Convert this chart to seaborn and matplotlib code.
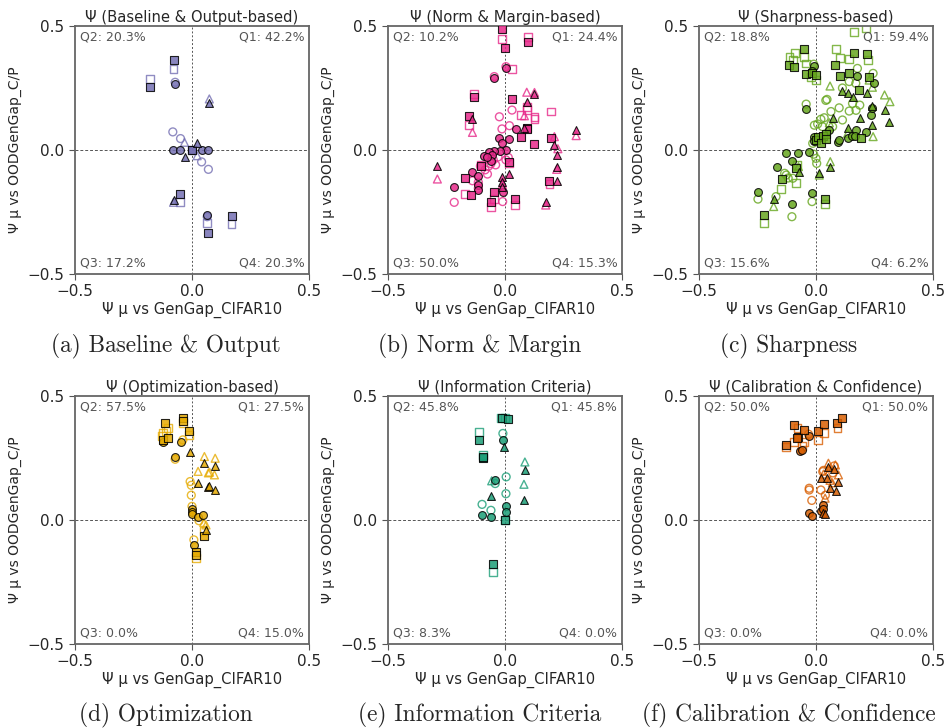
import matplotlib
matplotlib.use("Agg")
import matplotlib.pyplot as plt
import seaborn as sns
import pandas as pd

# colours (Dark2)
COLORS = ["#7570b3", "#e7298a", "#66a61e", "#e6ab02", "#1b9e77", "#d95f02"]

TITLES = ["Ψ (Baseline & Output-based)", "Ψ (Norm & Margin-based)", "Ψ (Sharpness-based)",
          "Ψ (Optimization-based)", "Ψ (Information Criteria)", "Ψ (Calibration & Confidence)"]
CAPTIONS = ["(a) Baseline & Output", "(b) Norm & Margin", "(c) Sharpness",
            "(d) Optimization", "(e) Information Criteria", "(f) Calibration & Confidence"]
# Q1, Q2, Q3, Q4 percentages
QUADS = [[42.2, 20.3, 17.2, 20.3], [24.4, 10.2, 50.0, 15.3], [59.4, 18.8, 15.6, 6.2],
         [27.5, 57.5, 0.0, 15.0], [45.8, 45.8, 8.3, 0.0], [50.0, 50.0, 0.0, 0.0]]

# (x, y, kind)  kind: c=circle, s=square, t=triangle; f=filled, h=hollow
A_PTS = [(-0.079, 0.363, "sf"), (-0.079, 0.327, "sh"), (-0.178, 0.288, "sh"), (-0.178, 0.255, "sf"),
         (-0.072, 0.266, "cf"), (-0.072, 0.273, "ch"), (0.074, 0.206, "th"), (0.074, 0.190, "tf"),
         (-0.082, 0.073, "ch"), (-0.049, 0.046, "ch"), (-0.032, 0.031, "th"), (0.022, 0.027, "tf"),
         (-0.082, 0.0, "cf"), (-0.050, 0.0, "cf"), (0.041, 0.0, "cf"), (0.070, 0.0, "cf"),
         (0.0, 0.0, "cf"), (0.0, 0.0, "sh"), (0.0, 0.0, "sf"), (-0.032, -0.027, "tf"),
         (0.022, -0.023, "th"), (0.041, -0.048, "ch"), (0.070, -0.078, "ch"),
         (-0.052, -0.177, "sf"), (-0.052, -0.211, "sh"), (-0.079, -0.202, "tf"), (-0.079, -0.211, "th"),
         (0.065, -0.262, "cf"), (0.065, -0.269, "ch"), (0.065, -0.296, "sh"), (0.067, -0.336, "sf"),
         (0.169, -0.265, "sf"), (0.169, -0.298, "sh")]

B_PTS = [(-0.014, 0.487, "sf"), (-0.014, 0.446, "sh"), (0.0, 0.41, "sf"), (0.097, 0.457, "sh"),
         (0.097, 0.435, "sf"), (0.004, 0.33, "cf"), (0.004, 0.336, "ch"), (0.03, 0.327, "sh"),
         (-0.046, 0.292, "cf"), (-0.046, 0.296, "ch"), (-0.131, 0.226, "sh"), (-0.131, 0.212, "sf"),
         (0.03, 0.206, "sf"), (0.093, 0.233, "th"), (0.126, 0.226, "tf"), (0.126, 0.232, "th"),
         (0.093, 0.195, "tf"), (0.093, 0.175, "sh"), (0.093, 0.16, "sh"), (0.03, 0.161, "ch"),
         (-0.024, 0.134, "ch"), (0.067, 0.141, "sh"), (0.083, 0.138, "th"), (0.126, 0.134, "sh"),
         (0.126, 0.125, "sh"), (0.196, 0.155, "sh"), (-0.154, 0.137, "sf"), (-0.154, 0.10, "sh"),
         (-0.139, 0.125, "tf"), (-0.139, 0.071, "th"), (-0.013, 0.085, "ch"), (0.019, 0.098, "ch"),
         (0.093, 0.09, "sf"), (0.093, 0.085, "sf"), (0.083, 0.087, "tf"), (0.046, 0.083, "cf"),
         (0.067, 0.054, "sf"), (0.019, 0.043, "cf"), (-0.024, 0.047, "cf"), (-0.014, 0.03, "cf"),
         (0.126, 0.024, "sf"), (0.196, 0.047, "sf"), (0.211, 0.054, "th"), (0.211, 0.02, "tf"),
         (0.304, 0.081, "tf"), (0.304, 0.058, "th"), (-0.289, -0.063, "tf"), (-0.289, -0.117, "th"),
         (0.004, 0.0, "cf"), (-0.02, -0.003, "cf"), (-0.045, -0.005, "cf"), (-0.07, -0.01, "cf"),
         (-0.09, -0.025, "cf"), (-0.055, -0.02, "cf"), (-0.06, -0.045, "cf"), (-0.075, -0.03, "cf"),
         (0.014, -0.03, "ch"), (0.004, -0.04, "ch"), (-0.03, -0.028, "ch"), (-0.05, -0.04, "ch"),
         (-0.06, -0.055, "ch"), (-0.07, -0.065, "ch"), (-0.085, -0.08, "ch"), (-0.075, -0.097, "ch"),
         (-0.105, -0.065, "ch"), (-0.04, -0.06, "ch"), (0.017, -0.047, "sf"), (0.017, -0.053, "sh"),
         (-0.104, -0.063, "sf"), (-0.104, -0.06, "sh"), (0.019, -0.098, "tf"), (-0.011, -0.108, "tf"),
         (-0.011, -0.128, "tf"), (-0.011, -0.14, "th"), (-0.011, -0.15, "tf"),
         (-0.139, -0.087, "cf"), (-0.139, -0.124, "ch"), (-0.217, -0.148, "cf"), (-0.217, -0.211, "ch"),
         (-0.17, -0.114, "sf"), (-0.17, -0.177, "sh"), (-0.146, -0.181, "sf"),
         (-0.114, -0.103, "cf"), (-0.114, -0.141, "cf"), (-0.114, -0.161, "cf"),
         (-0.114, -0.13, "ch"), (-0.114, -0.155, "ch"), (-0.046, -0.171, "sf"), (-0.046, -0.198, "sh"),
         (-0.01, -0.171, "cf"), (-0.01, -0.208, "ch"), (-0.06, -0.211, "sf"), (-0.06, -0.231, "sh"),
         (0.043, -0.198, "sf"), (0.043, -0.222, "sh"), (0.19, -0.124, "sf"), (0.19, -0.137, "sh"),
         (0.221, -0.07, "tf"), (0.221, -0.078, "th"), (0.221, -0.125, "tf"), (0.221, -0.02, "tf"),
         (0.226, 0.005, "th"), (0.174, -0.208, "tf"), (0.174, -0.222, "th")]

C_PTS = [(-0.113, 0.374, "sh"), (-0.089, 0.39, "sh"), (-0.099, 0.363, "sh"), (-0.05, 0.374, "sh"),
         (-0.042, 0.349, "sh"), (-0.116, 0.343, "sf"), (-0.095, 0.336, "sf"), (-0.052, 0.406, "sf"),
         (-0.042, 0.306, "sf"), (-0.017, 0.309, "sf"), (0.0, 0.302, "sf"), (-0.021, 0.293, "sh"),
         (0.0, 0.282, "sh"), (-0.01, 0.34, "cf"), (-0.01, 0.346, "ch"), (-0.017, 0.32, "cf"),
         (0.215, 0.492, "sh"), (0.163, 0.477, "sh"), (0.085, 0.407, "sh"), (0.082, 0.343, "sf"),
         (0.102, 0.37, "sh"), (0.142, 0.366, "sh"), (0.163, 0.39, "sf"), (0.22, 0.387, "sf"),
         (0.224, 0.363, "sh"), (0.103, 0.298, "sf"), (0.142, 0.312, "sf"), (0.184, 0.242, "sf"),
         (0.227, 0.293, "sf"), (0.244, 0.309, "ch"), (0.177, 0.329, "ch"), (0.17, 0.269, "ch"),
         (0.142, 0.276, "ch"), (0.113, 0.25, "ch"), (0.187, 0.181, "ch"),
         (0.06, 0.258, "th"), (0.113, 0.239, "tf"), (0.135, 0.228, "tf"), (0.156, 0.215, "tf"),
         (0.219, 0.228, "tf"), (0.227, 0.282, "th"), (0.241, 0.253, "th"), (0.293, 0.222, "th"),
         (0.316, 0.195, "th"), (0.295, 0.161, "tf"), (0.314, 0.114, "tf"), (0.074, 0.131, "tf"),
         (0.137, 0.087, "tf"), (0.187, 0.128, "tf"), (0.239, 0.101, "tf"), (0.244, 0.054, "th"),
         (0.241, 0.177, "tf"), (0.135, 0.067, "th"), (0.057, 0.11, "th"), (0.061, -0.047, "th"),
         (0.061, -0.07, "tf"), (0.014, -0.094, "tf"), (0.014, -0.101, "th"), (-0.075, -0.067, "th"),
         (-0.071, -0.087, "tf"), (-0.181, -0.199, "tf"), (-0.181, -0.228, "th"),
         (-0.248, -0.168, "cf"), (-0.248, -0.198, "ch"), (-0.166, -0.07, "cf"), (-0.127, -0.013, "cf"),
         (-0.102, -0.043, "cf"), (-0.078, -0.011, "cf"), (-0.103, -0.218, "cf"), (-0.103, -0.269, "ch"),
         (-0.017, -0.172, "cf"), (-0.017, -0.208, "ch"), (-0.042, 0.164, "cf"), (-0.042, 0.185, "ch"),
         (-0.028, -0.007, "cf"), (-0.007, 0.051, "cf"), (-0.007, 0.037, "cf"), (0.0, 0.04, "sf"),
         (0.007, 0.054, "sf"), (0.028, 0.058, "sf"), (0.042, 0.063, "sf"), (0.057, 0.081, "cf"),
         (0.092, 0.033, "cf"), (0.099, 0.04, "cf"), (0.135, 0.047, "cf"), (0.153, 0.058, "cf"),
         (0.171, 0.081, "cf"), (0.168, 0.058, "cf"), (0.215, 0.074, "cf"), (0.235, 0.141, "cf"),
         (0.241, 0.168, "cf"), (0.248, 0.272, "cf"), (0.177, 0.298, "cf"), (0.021, 0.03, "sf"),
         (0.042, 0.045, "sf"), (0.191, 0.047, "sf"),
         (-0.014, 0.027, "ch"), (-0.01, -0.017, "ch"), (0.0, -0.034, "ch"), (0.003, -0.054, "ch"),
         (0.007, 0.105, "ch"), (0.021, 0.124, "ch"), (0.035, 0.13, "ch"), (0.042, 0.2, "ch"),
         (0.047, 0.204, "ch"), (0.064, 0.155, "ch"), (0.099, 0.17, "ch"), (0.113, 0.121, "ch"),
         (0.142, 0.157, "ch"), (0.156, 0.188, "ch"), (0.171, 0.16, "ch"), (0.071, 0.094, "ch"),
         (0.028, 0.094, "ch"), (-0.007, 0.1, "ch"), (-0.171, -0.188, "ch"), (-0.134, -0.094, "ch"),
         (-0.119, -0.113, "ch"), (-0.099, -0.114, "ch"), (-0.127, -0.101, "ch"),
         (-0.149, -0.157, "sh"), (-0.144, -0.117, "sf"), (-0.085, -0.132, "sh"), (-0.224, -0.262, "sf"),
         (-0.224, -0.293, "sh"), (0.04, -0.198, "sf"), (0.04, -0.219, "sh"), (-0.085, -0.074, "sf"),
         (-0.081, -0.062, "sh")]

D_PTS = [(-0.117, 0.39, "sf"), (-0.124, 0.323, "sf"), (-0.103, 0.33, "sf"), (-0.039, 0.41, "sf"),
         (-0.039, 0.4, "sf"), (-0.011, 0.36, "sf"), (-0.124, 0.35, "sh"), (-0.103, 0.37, "sh"),
         (-0.11, 0.36, "sh"), (-0.13, 0.34, "sh"), (-0.039, 0.39, "sh"), (-0.011, 0.343, "sh"),
         (-0.124, 0.316, "cf"), (-0.046, 0.316, "cf"), (-0.072, 0.256, "cf"), (0.0, 0.045, "cf"),
         (0.0, 0.032, "cf"), (0.0, 0.025, "cf"), (0.025, 0.014, "cf"), (0.046, 0.02, "cf"),
         (0.008, -0.1, "cf"), (-0.072, 0.245, "ch"), (-0.039, 0.323, "ch"), (-0.008, 0.155, "ch"),
         (-0.003, 0.14, "ch"), (-0.003, 0.1, "ch"), (0.0, 0.055, "ch"), (0.03, -0.003, "ch"),
         (0.008, -0.08, "ch"), (-0.01, 0.276, "tf"), (0.053, 0.229, "tf"), (0.099, 0.218, "tf"),
         (0.025, 0.148, "tf"), (0.067, 0.135, "tf"), (0.071, 0.138, "tf"), (0.099, 0.121, "tf"),
         (0.06, -0.04, "tf"), (0.053, 0.256, "th"), (0.099, 0.249, "th"), (0.026, 0.196, "th"),
         (0.07, 0.19, "th"), (0.075, 0.193, "th"), (0.096, 0.182, "th"), (0.05, -0.01, "th"),
         (0.06, -0.02, "th"), (0.053, -0.064, "sf"), (0.018, -0.131, "sf"), (0.018, -0.14, "sf"),
         (0.049, -0.046, "sh"), (0.018, -0.154, "sh")]

E_PTS = [(-0.019, 0.41, "sh"), (0.001, 0.41, "sh"), (-0.014, 0.41, "sf"), (0.012, 0.406, "sf"),
         (-0.111, 0.356, "sh"), (-0.111, 0.322, "sf"), (-0.093, 0.248, "sf"), (-0.093, 0.256, "sf"),
         (-0.093, 0.262, "sh"), (-0.009, 0.322, "cf"), (-0.009, 0.349, "ch"), (-0.006, 0.295, "tf"),
         (0.085, 0.234, "th"), (0.085, 0.2, "tf"), (0.081, 0.144, "th"), (0.081, 0.082, "tf"),
         (0.005, 0.174, "ch"), (0.004, 0.106, "ch"), (-0.057, 0.158, "th"), (-0.042, 0.16, "cf"),
         (-0.042, 0.147, "ch"), (-0.06, 0.098, "tf"), (-0.098, 0.063, "ch"), (-0.098, 0.02, "cf"),
         (-0.06, 0.039, "ch"), (-0.06, 0.012, "cf"), (0.006, 0.055, "cf"), (0.005, 0.032, "cf"),
         (0.0, 0.0, "sf"), (0.0, 0.0, "sh"), (-0.052, -0.179, "sf"), (-0.052, -0.21, "sh")]

F_PTS = [(-0.128, 0.303, "sf"), (-0.093, 0.383, "sf"), (-0.079, 0.336, "sf"), (-0.051, 0.363, "sf"),
         (0.008, 0.36, "sf"), (0.035, 0.386, "sf"), (0.089, 0.39, "sf"), (0.11, 0.41, "sf"),
         (-0.082, 0.33, "sf"), (-0.128, 0.296, "sh"), (-0.093, 0.316, "sh"), (-0.079, 0.37, "sh"),
         (-0.053, 0.316, "sh"), (0.008, 0.323, "sh"), (0.035, 0.35, "sh"), (0.092, 0.37, "sh"),
         (-0.061, 0.3, "sh"), (-0.032, 0.338, "cf"), (-0.068, 0.279, "cf"), (-0.061, 0.284, "cf"),
         (-0.028, 0.03, "cf"), (-0.018, 0.018, "cf"), (0.021, 0.038, "cf"), (0.032, 0.061, "cf"),
         (0.028, 0.045, "cf"), (-0.032, 0.346, "ch"), (-0.029, 0.128, "ch"), (-0.029, 0.121, "ch"),
         (-0.018, 0.079, "ch"), (0.021, 0.121, "ch"), (0.029, 0.195, "ch"), (0.032, 0.2, "ch"),
         (0.078, 0.218, "ch"), (0.072, 0.19, "ch"), (0.04, 0.1, "ch"), (0.021, 0.168, "tf"),
         (0.046, 0.168, "tf"), (0.053, 0.213, "tf"), (0.078, 0.205, "tf"), (0.06, 0.128, "tf"),
         (0.085, 0.115, "tf"), (0.092, 0.155, "tf"), (0.032, 0.03, "tf"), (0.04, 0.025, "tf"),
         (0.053, 0.229, "th"), (0.032, 0.185, "th"), (0.06, 0.16, "th"), (0.096, 0.182, "th"),
         (0.039, 0.088, "th"), (0.083, 0.222, "th"), (0.07, 0.15, "th")]

PANELS = [A_PTS, B_PTS, C_PTS, D_PTS, E_PTS, F_PTS]

MARKERS = {"c": "o", "s": "s", "t": "^"}

sns.set_style("ticks")
plt.rcParams["font.family"] = ["DejaVu Sans"]

W, H = 947, 728
fig = plt.figure(figsize=(W / 100, H / 100), dpi=100)

lefts = [75, 388, 699]
tops = [26, 396]
aw, ah = 234, 248
cap_x = [166, 480, 789]
cap_y = [346, 715]

for i, pts in enumerate(PANELS):
    r, c = divmod(i, 3)
    ax = fig.add_axes([lefts[c] / W, 1 - (tops[r] + ah) / H, aw / W, ah / H])
    df = pd.DataFrame(pts, columns=["x", "y", "kind"])
    color = COLORS[i]

    ax.axhline(0, color="#555555", lw=0.7, ls=(0, (3, 2)), zorder=1)
    ax.axvline(0, color="#555555", lw=0.7, ls=(0, (2, 2)), zorder=1)

    for shape, m in MARKERS.items():
        sub = df[df["kind"] == shape + "h"]
        if len(sub):
            sns.scatterplot(data=sub, x="x", y="y", marker=m, s=32, ax=ax,
                            facecolor="none", edgecolor=color, linewidth=1.0,
                            alpha=0.8, zorder=2)
        sub = df[df["kind"] == shape + "f"]
        if len(sub):
            sns.scatterplot(data=sub, x="x", y="y", marker=m, s=32, ax=ax,
                            color=color, edgecolor="black", linewidth=0.8,
                            alpha=0.85, zorder=3)

    ax.set_xlim(-0.5, 0.5)
    ax.set_ylim(-0.5, 0.5)
    ax.set_xticks([-0.5, 0.0, 0.5])
    ax.set_yticks([-0.5, 0.0, 0.5])
    ax.tick_params(labelsize=11, length=4, color="#555555")
    for sp in ax.spines.values():
        sp.set_color("#666666")
        sp.set_linewidth(1.3)
    ax.set_xlabel("Ψ μ vs GenGap_CIFAR10", fontsize=10.6, labelpad=2)
    ax.set_ylabel("Ψ μ vs OODGenGap_C/P", fontsize=10)
    ax.set_title(TITLES[i], fontsize=10.6, pad=3)

    q1, q2, q3, q4 = QUADS[i]
    kw = dict(transform=ax.transAxes, fontsize=9, color="#555555")
    ax.text(0.02, 0.98, f"Q2: {q2:.1f}%", ha="left", va="top", **kw)
    ax.text(0.98, 0.98, f"Q1: {q1:.1f}%", ha="right", va="top", **kw)
    ax.text(0.02, 0.02, f"Q3: {q3:.1f}%", ha="left", va="bottom", **kw)
    ax.text(0.98, 0.02, f"Q4: {q4:.1f}%", ha="right", va="bottom", **kw)

    fig.text(cap_x[c] / W, 1 - cap_y[r] / H, CAPTIONS[i], ha="center", va="center",
             fontsize=16.8, family="cmr10")

fig.savefig("out.png", dpi=100)
